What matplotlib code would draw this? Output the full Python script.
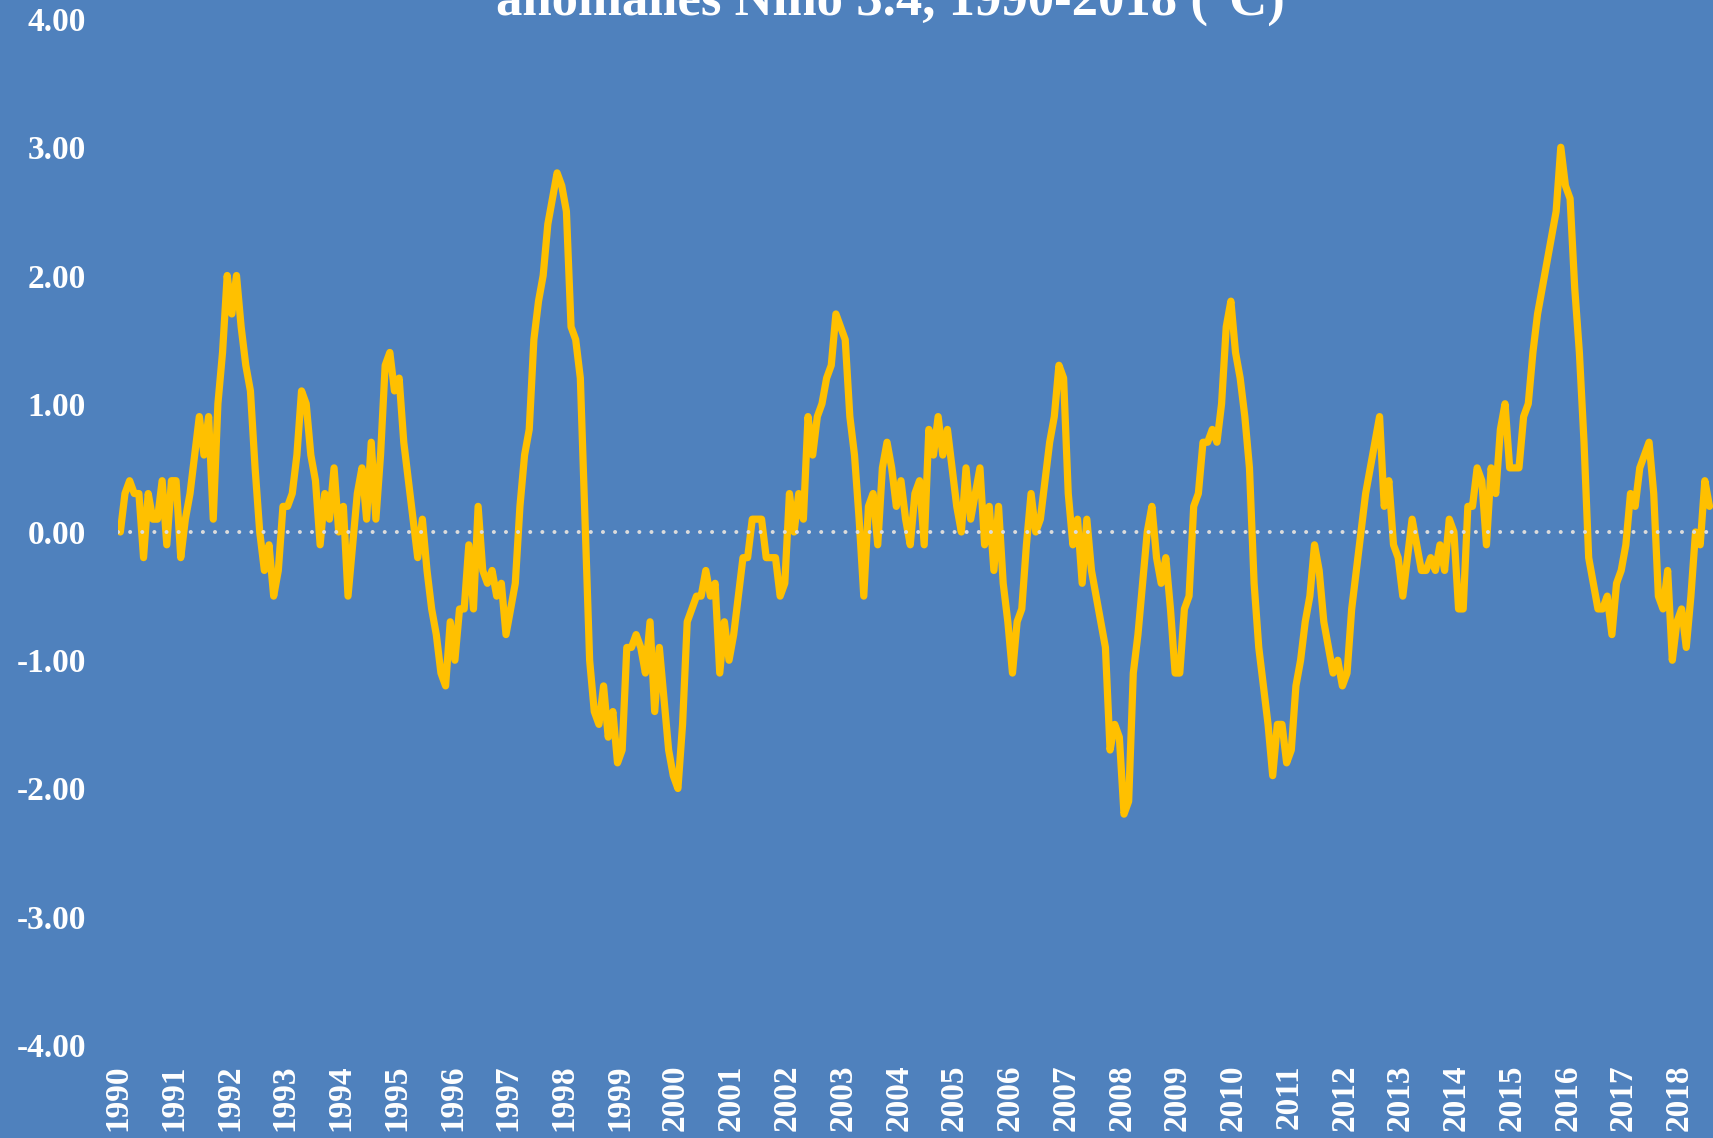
import matplotlib
matplotlib.use("Agg")
import matplotlib.pyplot as plt
import numpy as np

# Nino 3.4 anomalies (deg C), one row per year, monthly steps
nino_1990s = [
    [0.0, 0.3, 0.4, 0.3, 0.3, -0.2, 0.3, 0.1, 0.1, 0.4, -0.1, 0.4],      # 1990
    [0.4, -0.2, 0.1, 0.3, 0.6, 0.9, 0.6, 0.9, 0.1, 1.0, 1.4, 2.0],       # 1991
    [1.7, 2.0, 1.6, 1.3, 1.1, 0.5, 0.0, -0.3, -0.1, -0.5, -0.3, 0.2],    # 1992
    [0.2, 0.3, 0.6, 1.1, 1.0, 0.6, 0.4, -0.1, 0.3, 0.1, 0.5, 0.0],       # 1993
    [0.2, -0.5, -0.1, 0.3, 0.5, 0.1, 0.7, 0.1, 0.6, 1.3, 1.4, 1.1],      # 1994
    [1.2, 0.7, 0.4, 0.1, -0.2, 0.1, -0.3, -0.6, -0.8, -1.1, -1.2, -0.7], # 1995
    [-1.0, -0.6, -0.6, -0.1, -0.6, 0.2, -0.3, -0.4, -0.3, -0.5, -0.4, -0.8],  # 1996
    [-0.6, -0.4, 0.2, 0.6, 0.8, 1.5, 1.8, 2.0, 2.4, 2.6, 2.8, 2.7],      # 1997
    [2.5, 1.6, 1.5, 1.2, 0.1, -1.0, -1.4, -1.5, -1.2, -1.6, -1.4, -1.8], # 1998
    [-1.7, -0.9, -0.9, -0.8, -0.9, -1.1, -0.7, -1.4, -0.9, -1.3, -1.7, -1.9],  # 1999
]
nino_2000s = [
    [-2.0, -1.5, -0.7, -0.6, -0.5, -0.5, -0.3, -0.5, -0.4, -1.1, -0.7, -1.0],  # 2000
    [-0.8, -0.5, -0.2, -0.2, 0.1, 0.1, 0.1, -0.2, -0.2, -0.2, -0.5, -0.4],    # 2001
    [0.3, 0.0, 0.3, 0.1, 0.9, 0.6, 0.9, 1.0, 1.2, 1.3, 1.7, 1.6],        # 2002
    [1.5, 0.9, 0.6, 0.1, -0.5, 0.2, 0.3, -0.1, 0.5, 0.7, 0.5, 0.2],      # 2003
    [0.4, 0.1, -0.1, 0.3, 0.4, -0.1, 0.8, 0.6, 0.9, 0.6, 0.8, 0.5],      # 2004
    [0.2, 0.0, 0.5, 0.1, 0.3, 0.5, -0.1, 0.2, -0.3, 0.2, -0.4, -0.7],    # 2005
    [-1.1, -0.7, -0.6, -0.1, 0.3, 0.0, 0.1, 0.4, 0.7, 0.9, 1.3, 1.2],    # 2006
    [0.3, -0.1, 0.1, -0.4, 0.1, -0.3, -0.5, -0.7, -0.9, -1.7, -1.5, -1.6],  # 2007
    [-2.2, -2.1, -1.1, -0.8, -0.4, 0.0, 0.2, -0.2, -0.4, -0.2, -0.6, -1.1], # 2008
    [-1.1, -0.6, -0.5, 0.2, 0.3, 0.7, 0.7, 0.8, 0.7, 1.0, 1.6, 1.8],     # 2009
]
nino_2010s = [
    [1.4, 1.2, 0.9, 0.5, -0.4, -0.9, -1.2, -1.5, -1.9, -1.5, -1.5, -1.8],  # 2010
    [-1.7, -1.2, -1.0, -0.7, -0.5, -0.1, -0.3, -0.7, -0.9, -1.1, -1.0, -1.2],  # 2011
    [-1.1, -0.6, -0.3, 0.0, 0.3, 0.5, 0.7, 0.9, 0.2, 0.4, -0.1, -0.2],   # 2012
    [-0.5, -0.2, 0.1, -0.1, -0.3, -0.3, -0.2, -0.3, -0.1, -0.3, 0.1, 0.0],  # 2013
    [-0.6, -0.6, 0.2, 0.2, 0.5, 0.4, -0.1, 0.5, 0.3, 0.8, 1.0, 0.5],     # 2014
    [0.5, 0.5, 0.9, 1.0, 1.4, 1.7, 1.9, 2.1, 2.3, 2.5, 3.0, 2.7],        # 2015
    [2.6, 1.9, 1.4, 0.7, -0.2, -0.4, -0.6, -0.6, -0.5, -0.8, -0.4, -0.3],  # 2016
    [-0.1, 0.3, 0.2, 0.5, 0.6, 0.7, 0.3, -0.5, -0.6, -0.3, -1.0, -0.7],  # 2017
    [-0.6, -0.9, -0.5, 0.0, -0.1, 0.4, 0.2],                             # 2018 (partial)
]

YEARS = list(range(1990, 2019))
YEAR_LABELS = [str(y) for y in YEARS]
Y_TICKS = [4, 3, 2, 1, 0, -1, -2, -3, -4]
TITLE = "anomalies Niño 3.4, 1990-2018 (°C)"

BG = "#4F81BD"
LINE = "#FFC000"
FONT = "Liberation Serif"

# Flatten year rows into one monthly series
values = [v for rows in (nino_1990s, nino_2000s, nino_2010s) for row in rows for v in row]
t = 1990 + (np.arange(len(values)) + 0.5) / 12

fig = plt.figure(figsize=(17.13, 11.38), dpi=100, facecolor=BG)
ax = fig.add_axes([118 / 1713, 1 - 1045 / 1138, 1 - 118 / 1713, (1045 - 19) / 1138])
ax.set_facecolor(BG)

ax.plot(t, values, color=LINE, lw=5.2, solid_joinstyle="round", solid_capstyle="round", zorder=2)
ax.axhline(0, color="#DCDCDC", lw=2.9, linestyle=(0, (0.01, 3.0)),
           dash_capstyle="round", zorder=3)

ax.set_xlim(1990, 1990 + (1713 - 118) / 55.76)
ax.set_ylim(-4, 4)

ax.set_yticks(Y_TICKS)
ax.set_yticklabels([f"{v:.2f}" for v in Y_TICKS])
ax.set_xticks(YEARS)
ax.set_xticklabels(YEAR_LABELS, rotation=90)

for lab in ax.get_xticklabels() + ax.get_yticklabels():
    lab.set_fontfamily(FONT)
    lab.set_fontweight("bold")
    lab.set_fontsize(24)
    lab.set_color("white")
ax.tick_params(axis="both", length=0)
ax.tick_params(axis="y", pad=23)
ax.tick_params(axis="x", pad=14)

for s in ax.spines.values():
    s.set_visible(False)

# Title mostly cut off at top edge, as in the original
fig.text(890 / 1713, 1 - 15 / 1138, TITLE, ha="center", va="baseline",
         fontsize=38, fontweight="bold", color="white", fontfamily=FONT)

fig.savefig("out.png", dpi=100, facecolor=BG)
